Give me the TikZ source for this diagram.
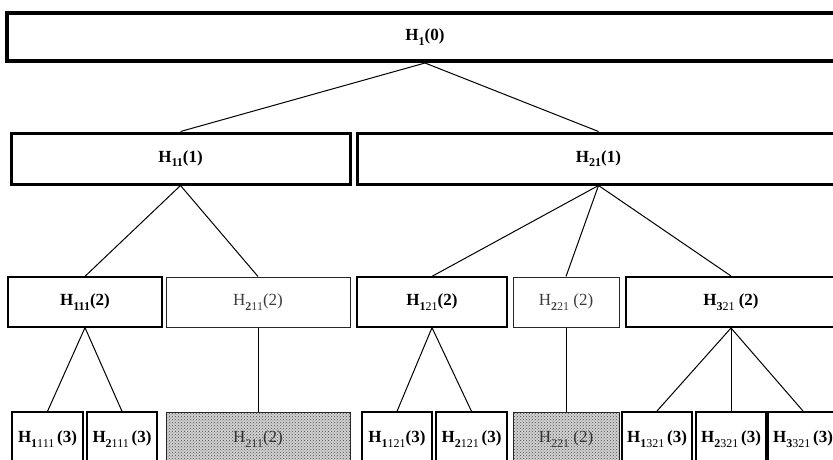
\documentclass[tikz,border=0pt]{standalone}
\usepackage{fontspec}
\setmainfont{Liberation Serif}
\usetikzlibrary{patterns}
% lowered index digits of a hypothesis label
\newcommand\sbx[1]{\raisebox{-0.28em}{\fontsize{12}{12}\selectfont #1}}
\definecolor{dimtext}{HTML}{3C3C3C}
\tikzset{
  hbox/.style={draw=black, rectangle, inner sep=0pt, font=\fontsize{17}{19}\selectfont},
  lvl0/.style={hbox, line width=4pt},
  lvl1/.style={hbox, line width=3pt},
  boldbox/.style={hbox, line width=2pt},
  midbox/.style={hbox, line width=1.3pt},
  thinbox/.style={hbox, line width=1pt, draw=black!85, text=dimtext},
  leafbox/.style={hbox, line width=1pt, draw=black!85, text=black!80,
    preaction={fill=black!18}, pattern=crosshatch dots, pattern color=black!70},
  link/.style={draw=black, line width=1pt}
}
\begin{document}
\begin{tikzpicture}[x=1pt,y=-1pt]
\useasboundingbox (0,0) rectangle (833,460);
\clip (0,0) rectangle (833,460);

% level 0
\node[lvl0, minimum width=836pt, minimum height=48pt] (h1) at (425,37) {\textbf{H\sbx{1}(0)}};

% level 1
\node[lvl1, minimum width=339pt, minimum height=51pt] (h11) at (180.5,158.5) {\textbf{H\sbx{11}(1)}};
\node[lvl1, minimum width=483pt, minimum height=51pt] (h21) at (598.5,158.5) {\textbf{H\sbx{21}(1)}};

% level 2
\node[midbox, minimum width=154pt, minimum height=50pt] (h111) at (85,302) {\textbf{H\sbx{111}(2)}};
\node[thinbox, minimum width=184pt, minimum height=50pt] (h211) at (258,302) {H\sbx{\textbf{2}11}(2)};
\node[midbox, minimum width=150pt, minimum height=50pt] (h121) at (432,302) {\textbf{H\sbx{1\mdseries 21}(2)}};
\node[thinbox, minimum width=106pt, minimum height=50pt] (h221) at (566,302) {H\sbx{\textbf{2}21} (2)};
\node[boldbox, minimum width=210pt, minimum height=50pt] (h321) at (731,302) {\textbf{H\sbx{3\mdseries 21} (2)}};

% level 3
\node[midbox, minimum width=71pt, minimum height=54pt] (h1111) at (47.5,439) {\textbf{H\sbx{1\mdseries 111}\,(3)}};
\node[midbox, minimum width=70pt, minimum height=54pt] (h2111) at (122,439) {\textbf{H\sbx{2\mdseries 111}\,(3)}};
\node[leafbox, minimum width=184pt, minimum height=54pt] (h211s) at (258,439) {H\sbx{211}(2)};
\node[midbox, minimum width=70pt, minimum height=54pt] (h1121) at (397,439) {\textbf{H\sbx{1\mdseries 121}(3)}};
\node[midbox, minimum width=71pt, minimum height=54pt] (h2121) at (471.5,439) {\textbf{H\sbx{2\mdseries 121}\,(3)}};
\node[leafbox, minimum width=106pt, minimum height=54pt] (h221s) at (566,439) {H\sbx{221} (2)};
\node[boldbox, minimum width=70pt, minimum height=54pt] (h1321) at (657,439) {\textbf{H\sbx{1\mdseries 321}\,(3)}};
\node[boldbox, minimum width=70pt, minimum height=54pt] (h2321) at (731,439) {\textbf{H\sbx{2\mdseries 321}\,(3)}};
\node[boldbox, minimum width=70pt, minimum height=54pt] (h3321) at (803,439) {\textbf{H\sbx{3\mdseries 321}\,(3)}};

% tree links
\path[link] (h1.south) -- (h11.north);
\path[link] (h1.south) -- (h21.north);
\path[link] (h11.south) -- (h111.north);
\path[link] (h11.south) -- (h211.north);
\path[link] (h21.south) -- (h121.north);
\path[link] (h21.south) -- (h221.north);
\path[link] (h21.south) -- (h321.north);
\path[link] (h111.south) -- (h1111.north);
\path[link] (h111.south) -- (h2111.north);
\path[link] (h211.south) -- (h211s.north);
\path[link] (h121.south) -- (h1121.north);
\path[link] (h121.south) -- (h2121.north);
\path[link] (h221.south) -- (h221s.north);
\path[link] (h321.south) -- (h1321.north);
\path[link] (h321.south) -- (h2321.north);
\path[link] (h321.south) -- (h3321.north);
\end{tikzpicture}
\end{document}
